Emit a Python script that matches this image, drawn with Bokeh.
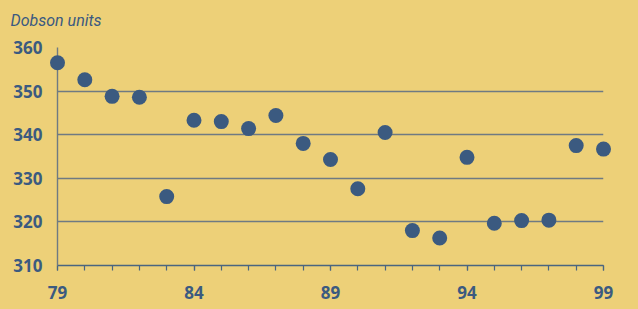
from bokeh.plotting import figure
from bokeh.models import Range1d, FixedTicker, ColumnDataSource
from bokeh.embed import file_html
from bokeh.resources import INLINE

# Data
years = list(range(79, 100))
dobson = [356.5, 352.6, 348.8, 348.6, 325.8, 343.3, 343.0, 341.4, 344.4, 338.0,
          334.3, 327.6, 340.5, 318.0, 316.3, 334.8, 319.7, 320.3, 320.4, 337.5, 336.7]
y_ticks = [310, 320, 330, 340, 350, 360]
x_major = [79, 84, 89, 94, 99]
unit_label = "Dobson units"

BG = "#EDD078"
BLUE = "#3B5A80"
GRID = "#6F7A82"

p = figure(width=638, height=309, output_backend="svg", toolbar_location=None,
           x_range=Range1d(79, 99), y_range=Range1d(310, 360),
           min_border_left=57, min_border_right=35, min_border_top=47, min_border_bottom=44,
           title=unit_label)
p.background_fill_color = BG
p.border_fill_color = BG
p.outline_line_color = None

p.title.text_font = "Roboto"
p.title.text_font_style = "italic"
p.title.text_font_size = "16px"
p.title.text_color = BLUE
p.title.align = "left"
p.title.offset = -47
p.title.standoff = 10
p.title.padding = dict(left=0, right=0, top=0, bottom=13)

# grid
p.xgrid.visible = False
p.ygrid.ticker = FixedTicker(ticks=y_ticks)
p.ygrid.grid_line_color = GRID
p.ygrid.grid_line_width = 1.4

# y axis
p.yaxis.ticker = FixedTicker(ticks=y_ticks)
p.yaxis.axis_line_color = GRID
p.yaxis.axis_line_width = 1.4
p.yaxis.major_tick_line_color = None
p.yaxis.minor_tick_line_color = None
p.yaxis.major_label_standoff = 9
p.yaxis.major_label_text_font = "Open Sans"
p.yaxis.major_label_text_font_style = "bold"
p.yaxis.major_label_text_font_size = "17px"
p.yaxis.major_label_text_color = BLUE

# x axis
p.xaxis.ticker = FixedTicker(ticks=x_major, minor_ticks=years)
p.xaxis.axis_line_color = "#4A6580"
p.xaxis.axis_line_width = 1.4
p.xaxis.major_tick_line_color = "#4A6580"
p.xaxis.minor_tick_line_color = "#4A6580"
p.xaxis.major_tick_line_width = 1.2
p.xaxis.minor_tick_line_width = 1.2
p.xaxis.major_tick_out = 5
p.xaxis.major_tick_in = 0
p.xaxis.minor_tick_out = 5
p.xaxis.minor_tick_in = 0
p.xaxis.major_label_standoff = 15
p.xaxis.major_label_text_font = "Open Sans"
p.xaxis.major_label_text_font_style = "bold"
p.xaxis.major_label_text_font_size = "17px"
p.xaxis.major_label_text_color = BLUE

src = ColumnDataSource(data=dict(year=years, value=dobson))
p.scatter("year", "value", source=src, size=15, fill_color=BLUE, line_color=None,
          level="overlay")

html = file_html(p, INLINE)
html = html.replace("</head>",
                    "<style>html,body{background:%s;margin:0;padding:0;}</style></head>" % BG, 1)
open("out.html", "w").write(html)
